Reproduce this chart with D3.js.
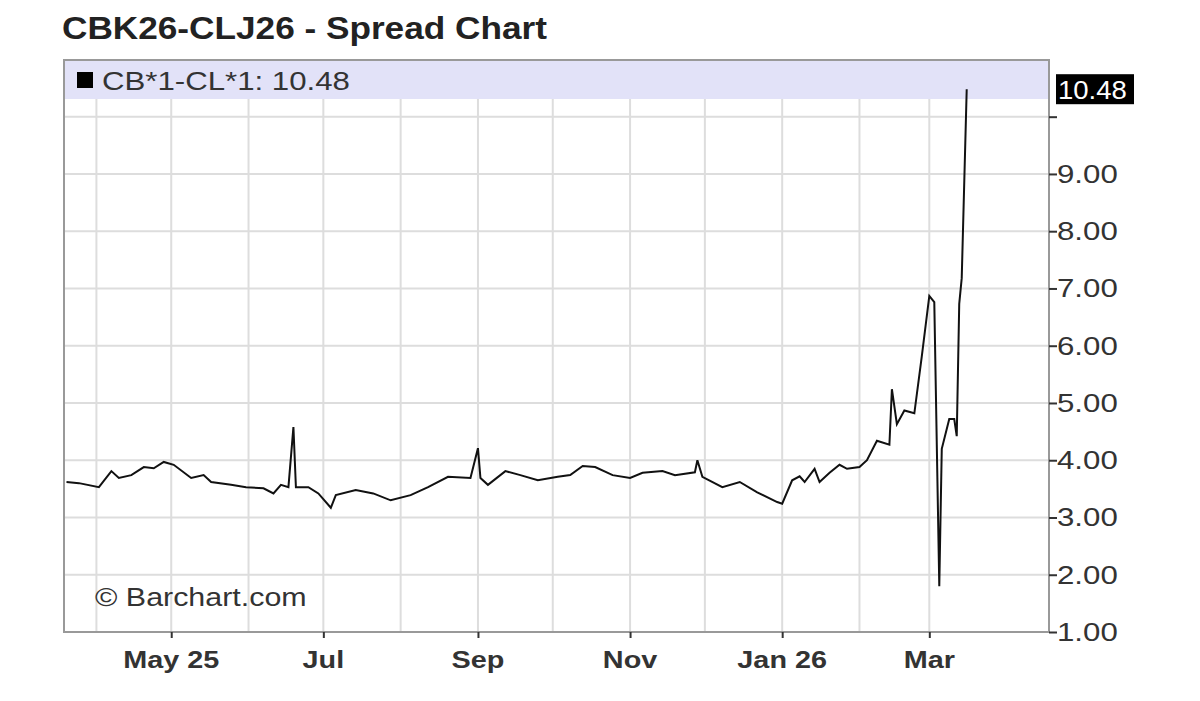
<!DOCTYPE html>
<html><head><meta charset="utf-8">
<script src="https://cdn.jsdelivr.net/npm/d3@7"></script>
<style>body{margin:0;background:#fff;font-family:"Liberation Sans",Arial,sans-serif}</style>
</head><body><svg id="c" width="1200" height="701"></svg>
<script>
const dates = ["2025-03-20","2025-03-25","2025-04-02","2025-04-07","2025-04-10","2025-04-15","2025-04-20","2025-04-24","2025-04-28","2025-05-02","2025-05-09","2025-05-14","2025-05-17","2025-05-25","2025-05-31","2025-06-07","2025-06-11","2025-06-14","2025-06-17","2025-06-19","2025-06-20","2025-06-25","2025-06-29","2025-07-04","2025-07-06","2025-07-14","2025-07-21","2025-07-28","2025-08-05","2025-08-12","2025-08-20","2025-08-29","2025-09-01","2025-09-02","2025-09-05","2025-09-12","2025-09-18","2025-09-25","2025-10-03","2025-10-08","2025-10-13","2025-10-18","2025-10-25","2025-11-01","2025-11-06","2025-11-14","2025-11-19","2025-11-27","2025-11-28","2025-11-30","2025-12-08","2025-12-15","2025-12-22","2025-12-30","2026-01-01","2026-01-05","2026-01-08","2026-01-10","2026-01-14","2026-01-16","2026-01-20","2026-01-24","2026-01-27","2026-02-01","2026-02-04","2026-02-08","2026-02-13","2026-02-14","2026-02-16","2026-02-19","2026-02-23","2026-02-26","2026-03-01","2026-03-03","2026-03-05","2026-03-06","2026-03-09","2026-03-11","2026-03-12","2026-03-13","2026-03-14","2026-03-16"];
const values = [3.62,3.60,3.53,3.81,3.69,3.74,3.88,3.86,3.97,3.92,3.69,3.74,3.62,3.57,3.53,3.51,3.42,3.57,3.53,4.58,3.53,3.53,3.42,3.17,3.39,3.48,3.42,3.30,3.39,3.53,3.71,3.69,4.21,3.69,3.57,3.81,3.74,3.65,3.71,3.74,3.90,3.88,3.74,3.69,3.78,3.81,3.74,3.79,4.00,3.71,3.53,3.62,3.44,3.27,3.24,3.65,3.72,3.62,3.85,3.62,3.78,3.92,3.85,3.88,4.00,4.34,4.27,5.24,4.63,4.87,4.82,5.82,6.87,6.76,1.80,4.20,4.72,4.72,4.42,6.73,7.18,10.48];
const yTicks = [1,2,3,4,5,6,7,8,9,10];
const monthTicks = ["2025-04-01","2025-05-01","2025-06-01","2025-07-01","2025-08-01","2025-09-01","2025-10-01","2025-11-01","2025-12-01","2026-01-01","2026-02-01","2026-03-01"];
const labelTicks = [["2025-05-01","May 25"],["2025-07-01","Jul"],["2025-09-01","Sep"],["2025-11-01","Nov"],["2026-01-01","Jan 26"],["2026-03-01","Mar"]];
const title = "CBK26-CLJ26 - Spread Chart", legendName = "CB*1-CL*1", lastVal = 10.48;

const p = d3.timeParse("%Y-%m-%d");
const data = dates.map((d,i)=>({d:p(d),v:values[i]}));
const L=64,R=1049,T=60,B=632;
const x = d3.scaleTime().domain([p("2025-03-19"),p("2026-04-18")]).range([L,R]);
const y = d3.scaleLinear().domain([1,10.99]).range([B,T]);
const svg = d3.select("#c");
function txt(parent,tx,ty,sx,str,size,opts={}){
  const t=parent.append("text").attr("transform",`translate(${tx},${ty}) scale(${sx},1)`).attr("font-size",size).attr("fill",opts.fill||"#333").text(str);
  if(opts.bold) t.attr("font-weight","bold");
  if(opts.anchor) t.attr("text-anchor",opts.anchor);
  return t;
}
txt(svg,62,39,1.1,title,32,{bold:true,fill:"#222"});
svg.append("rect").attr("x",L).attr("y",T).attr("width",R-L).attr("height",B-T).attr("fill","#fff");
const g = svg.append("g");
g.selectAll(".hg").data(yTicks).join("line").attr("x1",L).attr("x2",R).attr("y1",d=>y(d)).attr("y2",d=>y(d)).attr("stroke","#ddd").attr("stroke-width",2);
g.selectAll(".vg").data(monthTicks).join("line").attr("x1",d=>x(p(d))).attr("x2",d=>x(p(d))).attr("y1",T).attr("y2",B).attr("stroke","#ddd").attr("stroke-width",2);
svg.append("rect").attr("x",L).attr("y",T).attr("width",R-L).attr("height",39).attr("fill","#e2e2f8");
svg.append("rect").attr("x",77).attr("y",72).attr("width",16).attr("height",16).attr("fill","#000");
txt(svg,102,90,1.2,legendName+": "+lastVal.toFixed(2),26);
txt(svg,95,606,1.17,"© Barchart.com",26);
svg.append("path").datum(data).attr("fill","none").attr("stroke","#111").attr("stroke-width",2)
  .attr("d",d3.line().x(d=>x(d.d)).y(d=>y(d.v)));
svg.append("rect").attr("x",L).attr("y",T).attr("width",R-L).attr("height",B-T).attr("fill","none").attr("stroke","#999").attr("stroke-width",2);
const ya = svg.append("g").attr("transform",`translate(${R},0)`).call(d3.axisRight(y).tickValues(yTicks).tickSize(8).tickFormat(""));
ya.select(".domain").remove();
ya.selectAll("line").attr("stroke","#333").attr("stroke-width",2);
yTicks.filter(d=>d!==10).forEach(d=>txt(svg,R+8,y(d)+9,1.25,d.toFixed(2),25));
svg.append("rect").attr("x",1056).attr("y",y(lastVal)-15).attr("width",78).attr("height",30).attr("fill","#000");
txt(svg,1058,y(lastVal)+10,1.1,lastVal.toFixed(2),25,{fill:"#fff"});
const xa = svg.append("g").attr("transform",`translate(0,${B})`).call(d3.axisBottom(x).tickValues(labelTicks.map(d=>p(d[0]))).tickSize(6).tickFormat(""));
xa.select(".domain").remove();
xa.selectAll("line").attr("stroke","#333").attr("stroke-width",2);
labelTicks.forEach(d=>txt(svg,x(p(d[0])),668,1.2,d[1],24,{bold:true,anchor:"middle"}));
</script></body></html>
